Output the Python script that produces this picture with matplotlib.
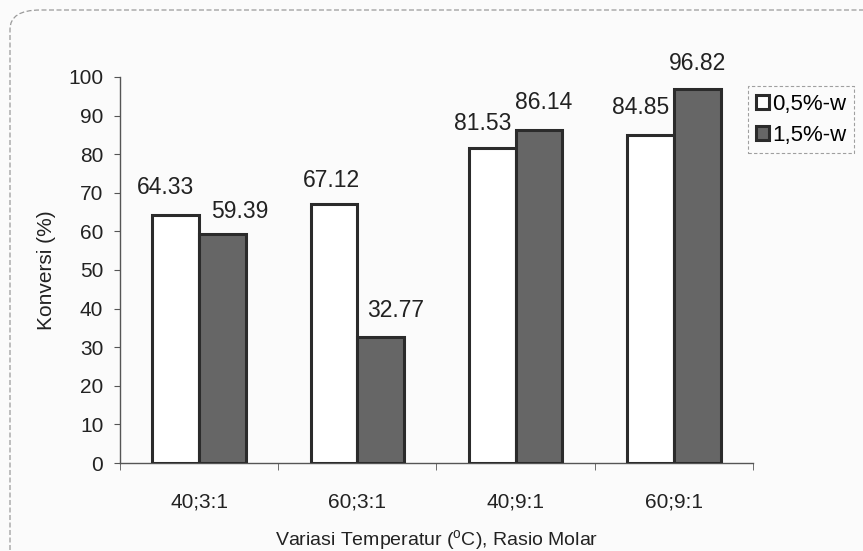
import matplotlib
matplotlib.use("Agg")
import matplotlib.pyplot as plt
from matplotlib.patches import FancyBboxPatch
import numpy as np

plt.rcParams['font.family'] = ['Liberation Sans', 'DejaVu Sans']

categories = ["40;3:1", "60;3:1", "40;9:1", "60;9:1"]
series_names = ["0,5%-w", "1,5%-w"]
konversi_05 = [64.33, 67.12, 81.53, 84.85]
konversi_15 = [59.39, 32.77, 86.14, 96.82]
y_ticks = [0, 10, 20, 30, 40, 50, 60, 70, 80, 90, 100]

# hand-placed nudges (pixels) for the value labels
label_nudge_05 = [(-10, 21), (-3, 17), (-10, 18), (-10, 21)]
label_nudge_15 = [(17, 16), (15, 20), (5, 21), (0, 19)]

fig = plt.figure(figsize=(8.63, 5.51), dpi=100)
fig.patch.set_facecolor('#fbfbfb')

# faint rounded frame around the figure area
frame = FancyBboxPatch((10 / 863, -0.2), 1.2, (551 - 10) / 551 + 0.2,
                       boxstyle="round,pad=0,rounding_size=0.035",
                       transform=fig.transFigure, fill=False,
                       edgecolor='#9a9a9a', linewidth=0.9,
                       linestyle=(0, (4, 2)), zorder=0)
fig.patches.append(frame)

ax = fig.add_axes([0.139, 0.1597, 0.7335, 0.7006])
ax.set_facecolor('none')

x = np.arange(len(categories))
w = 0.295
edge = '#2b2b2b'
b1 = ax.bar(x - w / 2, konversi_05, width=w, color='white', edgecolor=edge,
            linewidth=2.2, label=series_names[0], zorder=3)
b2 = ax.bar(x + w / 2, konversi_15, width=w, color='#666666', edgecolor=edge,
            linewidth=2.2, label=series_names[1], zorder=3)

for bars, vals, nudges in ((b1, konversi_05, label_nudge_05),
                           (b2, konversi_15, label_nudge_15)):
    for r, v, (dx, dy) in zip(bars, vals, nudges):
        ax.annotate(f"{v:.2f}", (r.get_x() + r.get_width() / 2, v),
                    xytext=(dx, dy), textcoords='offset pixels',
                    ha='center', va='baseline', fontsize=16.5,
                    color='#222222')

ax.set_xlim(-0.5, len(categories) - 0.5)
ax.set_ylim(0, 100)
ax.set_yticks(y_ticks)
ax.set_xticks(x)
ax.set_xticklabels(categories)
ax.set_xticks(np.arange(len(categories) + 1) - 0.5, minor=True)
ax.tick_params(axis='x', which='major', length=0, pad=21, labelsize=15,
               colors='#222222')
ax.tick_params(axis='x', which='minor', length=5, color='#555555', direction='out')
ax.tick_params(axis='y', length=4, color='#555555', labelsize=15, pad=8,
               labelcolor='#222222')

for s in ('top', 'right'):
    ax.spines[s].set_visible(False)
for s in ('left', 'bottom'):
    ax.spines[s].set_color('#555555')
    ax.spines[s].set_linewidth(1.0)

ax.set_ylabel("Konversi (%)", fontsize=15, color='#222222', labelpad=9)
ax.set_xlabel("Variasi Temperatur ($\\mathregular{^{o}}$C), Rasio Molar",
              fontsize=14, color='#222222', labelpad=12)

leg = ax.legend(loc='upper left', bbox_to_anchor=(0.992, 0.977), fontsize=16,
                frameon=True, fancybox=False, handlelength=0.6,
                handleheight=0.6, handletextpad=0.15, borderpad=0.35,
                labelspacing=0.45, borderaxespad=0)
leg.get_frame().set_edgecolor('#888888')
leg.get_frame().set_linestyle((0, (3, 2)))
leg.get_frame().set_linewidth(0.8)
leg.get_frame().set_facecolor('none')

fig.savefig("out.png", dpi=100, facecolor=fig.get_facecolor())
